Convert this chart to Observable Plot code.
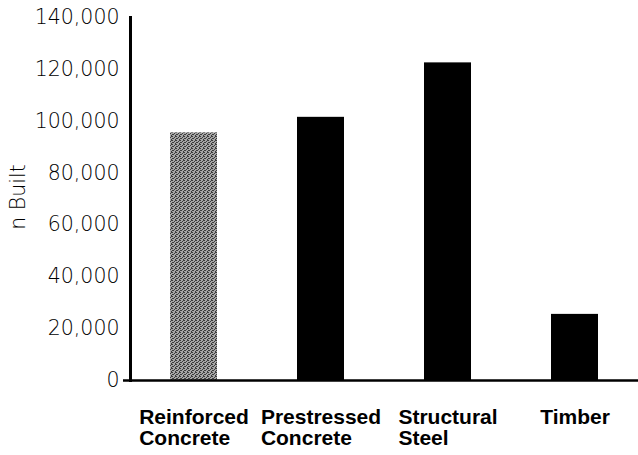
<!DOCTYPE html>
<html>
<head>
<meta charset="utf-8">
<script src="https://cdn.jsdelivr.net/npm/d3@7"></script>
<script src="https://cdn.jsdelivr.net/npm/@observablehq/plot@0.6"></script>
<style>
  html, body { margin: 0; padding: 0; background: #fff; }
  #chart svg { display: block; }
</style>
</head>
<body>
<div id="chart"></div>
<script>
const categories = ["Reinforced Concrete", "Prestressed Concrete", "Structural Steel", "Timber"];
const labelLine1 = ["Reinforced", "Prestressed", "Structural", "Timber"];
const labelLine2 = ["Concrete", "Concrete", "Steel", ""];
const built = [95500, 101500, 122500, 25500];
const yTicks = [0, 20000, 40000, 60000, 80000, 100000, 120000, 140000];

const data = categories.map((c, i) => ({category: c, value: built[i]}));

const catFont = "bold 21px 'Liberation Sans', Arial, sans-serif";
const ctx = document.createElement("canvas").getContext("2d");
ctx.font = catFont;
const w1 = labelLine1.map(t => ctx.measureText(t).width);

const labelMarks = categories.map((c, i) =>
  Plot.text([c], {
    x: d => d,
    text: () => labelLine2[i] ? labelLine1[i] + "\n" + labelLine2[i] : labelLine1[i],
    frameAnchor: "bottom",
    textAnchor: "start",
    lineAnchor: "top",
    lineHeight: 1.0,
    dx: -w1[i] / 2,
    dy: 29,
    fontFamily: "'Liberation Sans', Arial, sans-serif",
    fontWeight: "bold",
    fontSize: 21,
    fill: "black"
  })
);

const chart = Plot.plot({
  width: 638,
  height: 455,
  marginLeft: 130,
  marginRight: 0,
  marginTop: 17,
  marginBottom: 75,
  style: {background: "white", overflow: "visible"},
  x: {domain: categories, paddingInner: 0.63, paddingOuter: 0.315, align: 0.5, axis: null},
  y: {domain: [0, 140000], axis: null},
  marks: [
    Plot.barY(data, {
      x: "category",
      y: "value",
      fill: d => d.category === "Reinforced Concrete" ? "url(#grain)" : "black"
    }),
    Plot.axisY(yTicks, {
      tickSize: 0,
      tickPadding: 11,
      tickFormat: d3.format(","),
      fontFamily: "'DejaVu Sans', sans-serif",
      fontWeight: 200,
      fontSize: 20.5,
      letterSpacing: 0.6,
      fill: "black",
      label: null
    }),
    Plot.frame({anchor: "left", stroke: "black", strokeWidth: 3}),
    Plot.ruleY([0], {stroke: "black", strokeWidth: 2.5, insetLeft: -7}),
    Plot.text(["n Built"], {
      text: d => d,
      frameAnchor: "left",
      rotate: -90,
      dx: -112,
      dy: -2,
      textAnchor: "middle",
      lineAnchor: "middle",
      fontFamily: "'DejaVu Sans', sans-serif",
      fontWeight: 200,
      fontSize: 20.5,
      letterSpacing: 0.6,
      fill: "black"
    }),
    ...labelMarks
  ]
});

// grainy grey fill pattern for the reinforced-concrete bar
const ns = "http://www.w3.org/2000/svg";
const defs = document.createElementNS(ns, "defs");
const pat = document.createElementNS(ns, "pattern");
pat.setAttribute("id", "grain");
pat.setAttribute("width", 4);
pat.setAttribute("height", 4);
pat.setAttribute("patternUnits", "userSpaceOnUse");
const bg = document.createElementNS(ns, "rect");
bg.setAttribute("width", 4); bg.setAttribute("height", 4); bg.setAttribute("fill", "#a6a6a6");
pat.appendChild(bg);
[[0,0],[2,1],[1,2],[3,3],[3,0],[0,2]].forEach(([px, py]) => {
  const r = document.createElementNS(ns, "rect");
  r.setAttribute("x", px); r.setAttribute("y", py);
  r.setAttribute("width", 1); r.setAttribute("height", 1);
  r.setAttribute("fill", "#3c3c3c");
  pat.appendChild(r);
});
defs.appendChild(pat);
chart.insertBefore(defs, chart.firstChild);

document.getElementById("chart").appendChild(chart);
</script>
</body>
</html>
